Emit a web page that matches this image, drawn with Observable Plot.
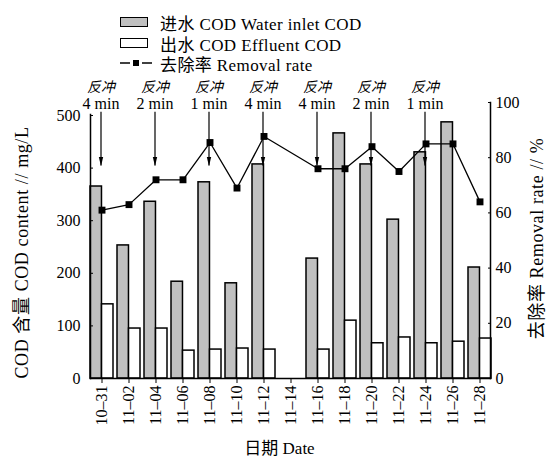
<!DOCTYPE html>
<html><head><meta charset="utf-8">
<script src="https://cdn.jsdelivr.net/npm/d3@7"></script>
<script src="https://cdn.jsdelivr.net/npm/@observablehq/plot@0.6"></script>
<style>
body{margin:0;background:#fff;}
#wrap{position:relative;width:551px;height:457px;font-family:"Liberation Serif","Times New Roman","DejaVu Serif",serif,"Noto Sans CJK SC";color:#000;}
#wrap svg{position:absolute;left:0;top:0;}
.leg{position:absolute;left:120px;height:20px;display:flex;align-items:center;font-size:17px;white-space:nowrap;z-index:2;letter-spacing:0.4px;}
.sw{width:26px;height:8px;border:1.5px solid #000;margin-right:12px;}
.axlab{letter-spacing:0.6px;}
</style></head><body><div id="wrap"></div>
<script>
// ---- data ----
const dates = ["10-31","11-02","11-04","11-06","11-08","11-10","11-12","11-14","11-16","11-18","11-20","11-22","11-24","11-26","11-28"];
const inletCOD    = [365, 253, 336, 184, 373, 181, 407, null, 228, 466, 407, 302, 430, 487, 211];
const effluentCOD = [141,  95,  95,  53,  55,  57,  55, null,  55, 110,  67,  78,  67,  70,  76];
const removalRate = [61, 63, 72, 72, 85.5, 69, 87.7, null, 76, 76, 84, 75, 85, 85, 64];
const backwashDates   = ["10-31","11-04","11-08","11-12","11-16","11-20","11-24"];
const backwashMinutes = [4, 2, 1, 4, 4, 2, 1];
const leftTicks  = [0, 100, 200, 300, 400, 500];
const rightTicks = [0, 20, 40, 60, 80, 100];
const seriesNames = ["进水 COD Water inlet COD", "出水 COD Effluent COD", "去除率 Removal rate"];

// ---- build ----
const rows = dates.map((d, i) => ({date: d, inlet: inletCOD[i], eff: effluentCOD[i], rate: removalRate[i]}));
const notes = backwashDates.map((d, i) => ({date: d, min: backwashMinutes[i]}));
const yMax = 500 * (378 - 102) / (378 - 115);   // left-axis units at top of right axis
const k = yMax / 100;                             // rate -> left units
const xr = [88, 493.6];
const bw = (xr[1] - xr[0]) / dates.length;
const arrowTop = 506, arrowTip = 404;
const arrowHead = {draw(ctx) { ctx.moveTo(0, 0); ctx.lineTo(-2.2, -9); ctx.lineTo(2.2, -9); ctx.closePath(); }};
const font = "'Liberation Serif','Times New Roman','DejaVu Serif',serif,'Noto Sans CJK SC'";

const chart = Plot.plot({
  width: 551, height: 457,
  marginTop: 102, marginBottom: 79, marginLeft: 90, marginRight: 61,
  style: {fontFamily: font, fontSize: "16px", color: "#000", background: "transparent"},
  x: {type: "band", domain: dates, range: xr, padding: 0},
  y: {domain: [0, yMax], range: [378, 102]},
  marks: [
    Plot.barY(rows.filter(r => r.inlet != null), {x: "date", y: "inlet", fill: "#c0c0c0", stroke: "#000", strokeWidth: 1.5, insetLeft: 2, insetRight: bw / 2}),
    Plot.barY(rows.filter(r => r.eff != null), {x: "date", y: "eff", fill: "#fff", stroke: "#000", strokeWidth: 1.5, insetLeft: bw / 2, insetRight: 2}),
    Plot.line(rows.filter(r => r.rate != null), {x: "date", y: r => r.rate * k, stroke: "#000", strokeWidth: 1.3}),
    Plot.dot(rows.filter(r => r.rate != null), {x: "date", y: r => r.rate * k, symbol: "square", r: 3.9, fill: "#000", stroke: "none"}),
    Plot.ruleX(notes, {x: "date", y1: arrowTop, y2: arrowTip, stroke: "#000", strokeWidth: 1.2, dx: -1}),
    Plot.dot(notes, {x: "date", y: () => arrowTip, symbol: arrowHead, r: 1, fill: "#000", stroke: "none", dx: -1}),
    Plot.text(notes, {x: "date", y: () => yMax, dy: -15, text: () => "反冲", fontSize: 14, fontStyle: "italic", fontFamily: "'Noto Sans CJK SC',sans-serif", dx: -1}),
    Plot.text(notes, {x: "date", y: () => yMax, dy: 1.5, text: d => `${d.min} min`, fontSize: 16, dx: -1}),
    Plot.frame({anchor: "bottom", strokeWidth: 1.5}),
    Plot.frame({anchor: "right", strokeWidth: 1.5}),
    Plot.frame({anchor: "left", insetTop: 12, strokeWidth: 1.5}),
    Plot.axisX({tickRotate: -90, tickSize: 5, tickPadding: 2, tickFormat: d => d.replace("-", "–"), label: null, fontSize: 16}),
    Plot.axisY({anchor: "left", ticks: leftTicks, tickSize: 3, dx: 3, tickPadding: 10, label: null, fontSize: 16}),
    Plot.axisY({anchor: "right", ticks: rightTicks.map(r => r * k), tickFormat: d => String(Math.round(d / k)), tickSize: 3, dx: -3, tickPadding: 5, label: null, fontSize: 16}),
    Plot.text(["COD 含量 COD content // mg/L"], {frameAnchor: "left", textAnchor: "middle", lineAnchor: "middle", dx: -68, dy: 12, rotate: -90, fontSize: 18, className: "axlab"}),
    Plot.text(["去除率 Removal rate // %"], {frameAnchor: "right", textAnchor: "middle", lineAnchor: "middle", dx: 47, dy: -2, rotate: -90, fontSize: 18, className: "axlab"}),
    Plot.text(["日期 Date"], {frameAnchor: "bottom", textAnchor: "middle", lineAnchor: "middle", dx: -11, dy: 70, fontSize: 17})
  ]
});
const wrap = document.getElementById("wrap");
wrap.appendChild(chart);

// ---- legend ----
const legTops = [12, 33, 53];
seriesNames.forEach((name, i) => {
  const row = document.createElement("div");
  row.className = "leg";
  row.style.top = legTops[i] + "px";
  if (i < 2) {
    const sw = document.createElement("div");
    sw.className = "sw";
    sw.style.background = i === 0 ? "#c0c0c0" : "#fff";
    row.appendChild(sw);
  } else {
    const ns = "http://www.w3.org/2000/svg";
    const s = document.createElementNS(ns, "svg");
    s.setAttribute("width", 40); s.setAttribute("height", 20);
    s.style.position = "static";
    s.innerHTML = '<line x1="0" y1="10" x2="10" y2="10" stroke="#000" stroke-width="1.5"/><rect x="13" y="7" width="6" height="6" fill="#000"/><line x1="22" y1="10" x2="32" y2="10" stroke="#000" stroke-width="1.5"/>';
    row.appendChild(s);
  }
  const t = document.createElement("span");
  t.textContent = name;
  row.appendChild(t);
  wrap.appendChild(row);
});
</script></body></html>
